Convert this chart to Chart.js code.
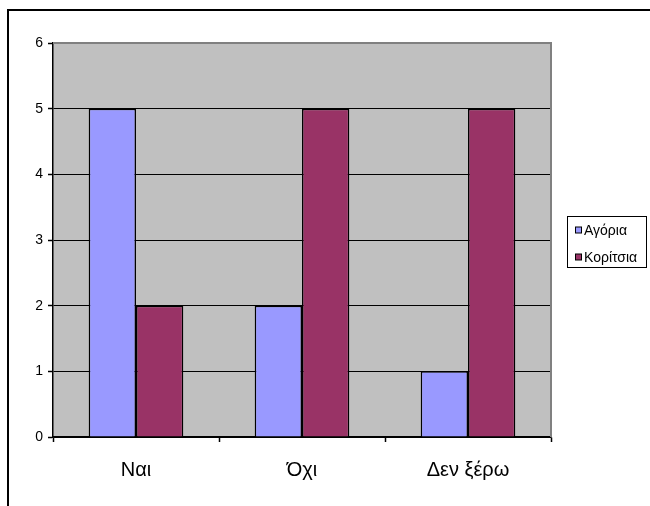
<!DOCTYPE html>
<html>
<head>
<meta charset="utf-8">
<script src="https://cdn.jsdelivr.net/npm/chart.js@4"></script>
<style>
  html, body { margin: 0; padding: 0; background: #fff; }
  #chart { display: block; }
</style>
</head>
<body>
<canvas id="chart" width="650" height="506"></canvas>
<script>
// data
const categories = ['Ναι', 'Όχι', 'Δεν ξέρω'];
const boys = [5, 2, 1];
const girls = [2, 5, 5];
const seriesNames = ['Αγόρια', 'Κορίτσια'];
const yTicks = [0, 1, 2, 3, 4, 5, 6];

const FONT = '"Liberation Sans", Arial, sans-serif';

// grey plot background + grey right border + outer frame
const plotArea = {
    id: 'plotArea',
    beforeDraw(chart) {
        const { ctx, chartArea: a } = chart;
        ctx.save();
        ctx.fillStyle = '#c0c0c0';
        ctx.fillRect(a.left, a.top, a.right - a.left, a.bottom - a.top);
        ctx.restore();
    },
    afterDraw(chart) {
        const { ctx, chartArea: a } = chart;
        ctx.save();
        ctx.strokeStyle = '#808080';
        ctx.lineWidth = 2;
        ctx.beginPath();
        ctx.moveTo(a.left, a.top);
        ctx.lineTo(a.right, a.top);
        ctx.lineTo(a.right, a.bottom);
        ctx.stroke();
        // outer frame, clipped by the picture on right and bottom
        ctx.strokeStyle = '#000';
        ctx.lineWidth = 2;
        ctx.beginPath();
        ctx.moveTo(8, 506);
        ctx.lineTo(8, 10);
        ctx.lineTo(650, 10);
        ctx.stroke();
        ctx.restore();
    }
};

// boxed legend on the right
const boxLegend = {
    id: 'boxLegend',
    afterDraw(chart) {
        const { ctx } = chart;
        const x = 567.5, y = 216.5, w = 79, h = 51;
        ctx.save();
        ctx.fillStyle = '#fff';
        ctx.fillRect(x, y, w, h);
        ctx.strokeStyle = '#000';
        ctx.lineWidth = 1;
        ctx.strokeRect(x, y, w, h);
        ctx.font = '14px ' + FONT;
        ctx.textBaseline = 'middle';
        chart.data.datasets.forEach((ds, i) => {
            const cy = 230 + i * 27;
            ctx.fillStyle = ds.backgroundColor;
            ctx.fillRect(575.5, cy - 3, 6, 6);
            ctx.strokeStyle = '#000';
            ctx.strokeRect(575.5, cy - 3, 6, 6);
            ctx.fillStyle = '#000';
            ctx.fillText(ds.label, 584, cy + 1);
        });
        ctx.restore();
    }
};

const chart = new Chart(document.getElementById('chart').getContext('2d'), {
    type: 'bar',
    data: {
        labels: categories,
        datasets: [
            {
                label: seriesNames[0],
                data: boys,
                backgroundColor: '#9999ff',
                borderColor: '#000',
                borderWidth: 1.5
            },
            {
                label: seriesNames[1],
                data: girls,
                backgroundColor: '#993366',
                borderColor: '#000',
                borderWidth: 1.5
            }
        ]
    },
    options: {
        responsive: false,
        animation: false,
        layout: { padding: { left: 0, top: 43, right: 99, bottom: 0 } },
        datasets: {
            bar: { categoryPercentage: 0.57, barPercentage: 1.0 }
        },
        plugins: {
            legend: { display: false },
            tooltip: { enabled: false }
        },
        scales: {
            x: {
                afterFit(scale) { scale.height = 69; },
                grid: {
                    offset: true,
                    drawOnChartArea: false,
                    drawTicks: true,
                    tickLength: 5,
                    tickColor: '#000',
                    tickWidth: 1.5
                },
                border: { color: '#000', width: 1.5 },
                ticks: {
                    color: '#000',
                    font: { family: FONT, size: 20 },
                    padding: 16
                }
            },
            y: {
                min: 0,
                max: 6,
                afterFit(scale) { scale.width = 53; },
                afterBuildTicks(scale) {
                    scale.ticks = yTicks.map(v => ({ value: v }));
                },
                grid: {
                    color: ctx => ctx.tick && ctx.tick.value === 6 ? '#808080' : '#000',
                    lineWidth: 1,
                    tickLength: 5,
                    tickColor: '#000',
                    tickWidth: 1.5
                },
                border: { color: '#000', width: 1.5 },
                ticks: {
                    color: '#000',
                    font: { family: FONT, size: 14 },
                    padding: 5
                }
            }
        }
    },
    plugins: [plotArea, boxLegend]
});
</script>
</body>
</html>
